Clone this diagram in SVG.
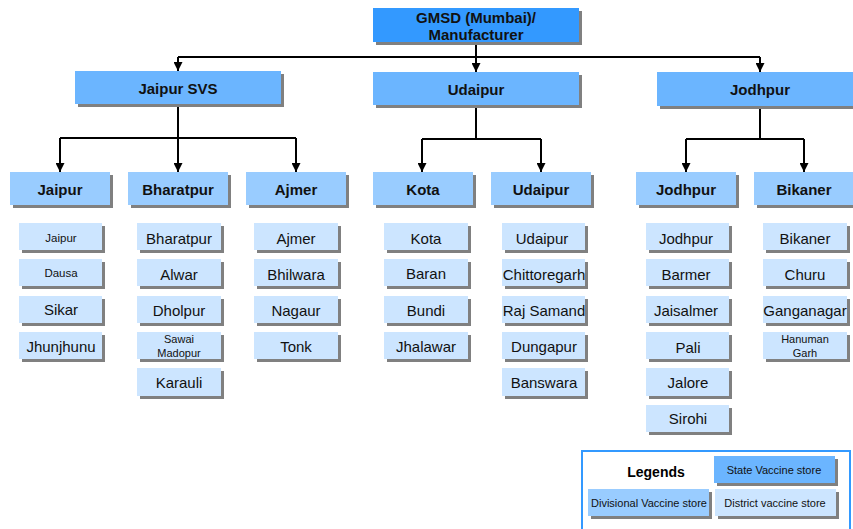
<svg xmlns="http://www.w3.org/2000/svg" width="853" height="529" viewBox="0 0 853 529">
  <defs>
    <marker id="arrow" viewBox="0 0 10 10" refX="10" refY="5" markerWidth="4.5" markerHeight="4.5" orient="auto" markerUnits="strokeWidth">
      <path d="M0,0 L10,5 L0,10 z" fill="#000"/>
    </marker>
  </defs>
  <style>
    text { font-family: "Liberation Sans", Arial, sans-serif; fill: #111; text-anchor: middle; dominant-baseline: central; }
    .b { font-weight: bold; font-size: 15px; }
    .lg { font-weight: bold; font-size: 14px; fill: #000; }
    .d { font-size: 15px; }
    .s { font-size: 11.5px; }
    .l { font-size: 11px; }
    .xs { font-size: 11px; }
    .sh { fill: #808080; }
    .state { fill: #3399ff; }
    .svs { fill: #6bb5ff; }
    .div { fill: #99ccff; }
    .dist { fill: #cce5ff; }
    .conn { fill: none; stroke: #000; stroke-width: 2; }
  </style>
  <rect width="853" height="529" fill="#fff"/>

  <!-- connectors -->
  <g id="connectors" class="conn">
    <path d="M476,42 V57"/>
    <path d="M178,57 H760"/>
    <path d="M178,57 V71" marker-end="url(#arrow)"/>
    <path d="M476,57 V72" marker-end="url(#arrow)"/>
    <path d="M760,57 V72" marker-end="url(#arrow)"/>
    <path d="M178,104 V138 M60,138 H296"/>
    <path d="M60,138 V172" marker-end="url(#arrow)"/>
    <path d="M178,138 V172" marker-end="url(#arrow)"/>
    <path d="M296,138 V172" marker-end="url(#arrow)"/>
    <path d="M476,105 V139 M422,139 H541"/>
    <path d="M422,139 V172" marker-end="url(#arrow)"/>
    <path d="M541,139 V172" marker-end="url(#arrow)"/>
    <path d="M760,106 V139 M686,139 H804"/>
    <path d="M686,139 V172" marker-end="url(#arrow)"/>
    <path d="M804,139 V172" marker-end="url(#arrow)"/>
  </g>

  <!-- state store -->
  <g id="gmsd">
    <rect class="sh" x="376" y="11" width="206" height="34"/>
    <rect class="state" x="373" y="8" width="206" height="34"/>
    <text class="b" x="476" y="17">GMSD (Mumbai)/</text>
    <text class="b" x="476" y="34">Manufacturer</text>
  </g>

  <!-- regional stores -->
  <g id="jaipur-svs">
    <rect class="sh" x="78" y="74" width="206" height="33"/>
    <rect class="svs" x="75" y="71" width="206" height="33"/>
    <text class="b" x="178" y="88">Jaipur SVS</text>
  </g>
  <g id="udaipur-rvs">
    <rect class="sh" x="376" y="75" width="206" height="33"/>
    <rect class="svs" x="373" y="72" width="206" height="33"/>
    <text class="b" x="476" y="89">Udaipur</text>
  </g>
  <g id="jodhpur-rvs">
    <rect class="sh" x="660" y="75" width="206" height="34"/>
    <rect class="svs" x="657" y="72" width="206" height="34"/>
    <text class="b" x="760" y="89">Jodhpur</text>
  </g>

  <!-- divisional stores -->
  <g id="div-jaipur">
    <rect class="sh" x="13" y="175" width="100" height="33"/>
    <rect class="div" x="10" y="172" width="100" height="33"/>
    <text class="b" x="60" y="189">Jaipur</text>
  </g>
  <g id="div-bharatpur">
    <rect class="sh" x="131" y="175" width="100" height="33"/>
    <rect class="div" x="128" y="172" width="100" height="33"/>
    <text class="b" x="178" y="189">Bharatpur</text>
  </g>
  <g id="div-ajmer">
    <rect class="sh" x="249" y="175" width="100" height="33"/>
    <rect class="div" x="246" y="172" width="100" height="33"/>
    <text class="b" x="296" y="189">Ajmer</text>
  </g>
  <g id="div-kota">
    <rect class="sh" x="376" y="175" width="100" height="33"/>
    <rect class="div" x="373" y="172" width="100" height="33"/>
    <text class="b" x="423" y="189">Kota</text>
  </g>
  <g id="div-udaipur">
    <rect class="sh" x="494" y="175" width="100" height="33"/>
    <rect class="div" x="491" y="172" width="100" height="33"/>
    <text class="b" x="541" y="189">Udaipur</text>
  </g>
  <g id="div-jodhpur">
    <rect class="sh" x="639" y="175" width="100" height="33"/>
    <rect class="div" x="636" y="172" width="100" height="33"/>
    <text class="b" x="686" y="189">Jodhpur</text>
  </g>
  <g id="div-bikaner">
    <rect class="sh" x="757" y="175" width="100" height="33"/>
    <rect class="div" x="754" y="172" width="100" height="33"/>
    <text class="b" x="804" y="189">Bikaner</text>
  </g>

  <!-- district stores: Jaipur division -->
  <g id="d-jaipur"><rect class="sh" x="22" y="226" width="83" height="27"/><rect class="dist" x="19" y="223" width="83" height="27"/><text class="s" x="61" y="238">Jaipur</text></g>
  <g id="d-dausa"><rect class="sh" x="22" y="262" width="83" height="27"/><rect class="dist" x="19" y="259" width="83" height="27"/><text class="s" x="61" y="273">Dausa</text></g>
  <g id="d-sikar"><rect class="sh" x="22" y="299" width="83" height="27"/><rect class="dist" x="19" y="296" width="83" height="27"/><text class="d" x="61" y="309">Sikar</text></g>
  <g id="d-jhunjhunu"><rect class="sh" x="22" y="335" width="83" height="27"/><rect class="dist" x="19" y="332" width="83" height="27"/><text class="d" x="61" y="346">Jhunjhunu</text></g>

  <!-- Bharatpur division -->
  <g id="d-bharatpur"><rect class="sh" x="140" y="226" width="84" height="27"/><rect class="dist" x="137" y="223" width="84" height="27"/><text class="d" x="179" y="238">Bharatpur</text></g>
  <g id="d-alwar"><rect class="sh" x="140" y="262" width="84" height="27"/><rect class="dist" x="137" y="259" width="84" height="27"/><text class="d" x="179" y="274">Alwar</text></g>
  <g id="d-dholpur"><rect class="sh" x="140" y="299" width="84" height="27"/><rect class="dist" x="137" y="296" width="84" height="27"/><text class="d" x="179" y="310">Dholpur</text></g>
  <g id="d-sawai-madopur"><rect class="sh" x="140" y="335" width="84" height="27"/><rect class="dist" x="137" y="332" width="84" height="27"/><text class="xs" x="179" y="339">Sawai</text><text class="xs" x="179" y="353">Madopur</text></g>
  <g id="d-karauli"><rect class="sh" x="140" y="371" width="84" height="28"/><rect class="dist" x="137" y="368" width="84" height="28"/><text class="d" x="179" y="382">Karauli</text></g>

  <!-- Ajmer division -->
  <g id="d-ajmer"><rect class="sh" x="257" y="226" width="84" height="27"/><rect class="dist" x="254" y="223" width="84" height="27"/><text class="d" x="296" y="238">Ajmer</text></g>
  <g id="d-bhilwara"><rect class="sh" x="257" y="262" width="84" height="27"/><rect class="dist" x="254" y="259" width="84" height="27"/><text class="d" x="296" y="274">Bhilwara</text></g>
  <g id="d-nagaur"><rect class="sh" x="257" y="299" width="84" height="27"/><rect class="dist" x="254" y="296" width="84" height="27"/><text class="d" x="296" y="310">Nagaur</text></g>
  <g id="d-tonk"><rect class="sh" x="257" y="335" width="84" height="27"/><rect class="dist" x="254" y="332" width="84" height="27"/><text class="d" x="296" y="346">Tonk</text></g>

  <!-- Kota division -->
  <g id="d-kota"><rect class="sh" x="387" y="226" width="84" height="27"/><rect class="dist" x="384" y="223" width="84" height="27"/><text class="d" x="426" y="238">Kota</text></g>
  <g id="d-baran"><rect class="sh" x="387" y="262" width="84" height="27"/><rect class="dist" x="384" y="259" width="84" height="27"/><text class="d" x="426" y="273">Baran</text></g>
  <g id="d-bundi"><rect class="sh" x="387" y="299" width="84" height="27"/><rect class="dist" x="384" y="296" width="84" height="27"/><text class="d" x="426" y="310">Bundi</text></g>
  <g id="d-jhalawar"><rect class="sh" x="387" y="335" width="84" height="27"/><rect class="dist" x="384" y="332" width="84" height="27"/><text class="d" x="426" y="346">Jhalawar</text></g>

  <!-- Udaipur division -->
  <g id="d-udaipur"><rect class="sh" x="505" y="226" width="83" height="27"/><rect class="dist" x="502" y="223" width="83" height="27"/><text class="d" x="542" y="238">Udaipur</text></g>
  <g id="d-chittoregarh"><rect class="sh" x="505" y="262" width="83" height="27"/><rect class="dist" x="502" y="259" width="83" height="27"/><text class="d" x="544" y="274">Chittoregarh</text></g>
  <g id="d-raj-samand"><rect class="sh" x="505" y="299" width="83" height="27"/><rect class="dist" x="502" y="296" width="83" height="27"/><text class="d" x="544" y="310">Raj Samand</text></g>
  <g id="d-dungapur"><rect class="sh" x="505" y="335" width="83" height="27"/><rect class="dist" x="502" y="332" width="83" height="27"/><text class="d" x="544" y="346">Dungapur</text></g>
  <g id="d-banswara"><rect class="sh" x="505" y="371" width="83" height="28"/><rect class="dist" x="502" y="368" width="83" height="28"/><text class="d" x="544" y="382">Banswara</text></g>

  <!-- Jodhpur division -->
  <g id="d-jodhpur"><rect class="sh" x="649" y="226" width="83" height="27"/><rect class="dist" x="646" y="223" width="83" height="27"/><text class="d" x="686" y="238">Jodhpur</text></g>
  <g id="d-barmer"><rect class="sh" x="649" y="262" width="83" height="27"/><rect class="dist" x="646" y="259" width="83" height="27"/><text class="d" x="686" y="274">Barmer</text></g>
  <g id="d-jaisalmer"><rect class="sh" x="649" y="299" width="83" height="27"/><rect class="dist" x="646" y="296" width="83" height="27"/><text class="d" x="686" y="310">Jaisalmer</text></g>
  <g id="d-pali"><rect class="sh" x="649" y="335" width="83" height="27"/><rect class="dist" x="646" y="332" width="83" height="27"/><text class="d" x="688" y="347">Pali</text></g>
  <g id="d-jalore"><rect class="sh" x="649" y="371" width="83" height="28"/><rect class="dist" x="646" y="368" width="83" height="28"/><text class="d" x="688" y="382">Jalore</text></g>
  <g id="d-sirohi"><rect class="sh" x="649" y="408" width="83" height="27"/><rect class="dist" x="646" y="405" width="83" height="27"/><text class="d" x="688" y="418">Sirohi</text></g>

  <!-- Bikaner division -->
  <g id="d-bikaner"><rect class="sh" x="766" y="226" width="84" height="27"/><rect class="dist" x="763" y="223" width="84" height="27"/><text class="d" x="805" y="238">Bikaner</text></g>
  <g id="d-churu"><rect class="sh" x="766" y="262" width="84" height="27"/><rect class="dist" x="763" y="259" width="84" height="27"/><text class="d" x="805" y="274">Churu</text></g>
  <g id="d-ganganagar"><rect class="sh" x="766" y="299" width="84" height="27"/><rect class="dist" x="763" y="296" width="84" height="27"/><text class="d" x="805" y="310">Ganganagar</text></g>
  <g id="d-hanuman-garh"><rect class="sh" x="766" y="335" width="84" height="27"/><rect class="dist" x="763" y="332" width="84" height="27"/><text class="xs" x="805" y="339">Hanuman</text><text class="xs" x="805" y="353">Garh</text></g>

  <!-- legend -->
  <g id="legend">
    <rect x="582" y="451" width="268" height="90" fill="#fff" stroke="#3399ff" stroke-width="2"/>
    <text class="lg" x="656" y="472">Legends</text>
    <rect class="sh" x="717" y="459" width="121" height="27"/>
    <rect class="svs" x="714" y="456" width="121" height="27"/>
    <text class="l" x="774" y="470">State Vaccine store</text>
    <rect class="sh" x="591" y="492" width="121" height="27"/>
    <rect class="div" x="588" y="489" width="121" height="27"/>
    <text class="l" x="649" y="503">Divisional Vaccine store</text>
    <rect class="sh" x="718" y="492" width="121" height="27"/>
    <rect class="dist" x="715" y="489" width="121" height="27"/>
    <text class="l" x="775" y="503">District vaccine store</text>
  </g>
</svg>
